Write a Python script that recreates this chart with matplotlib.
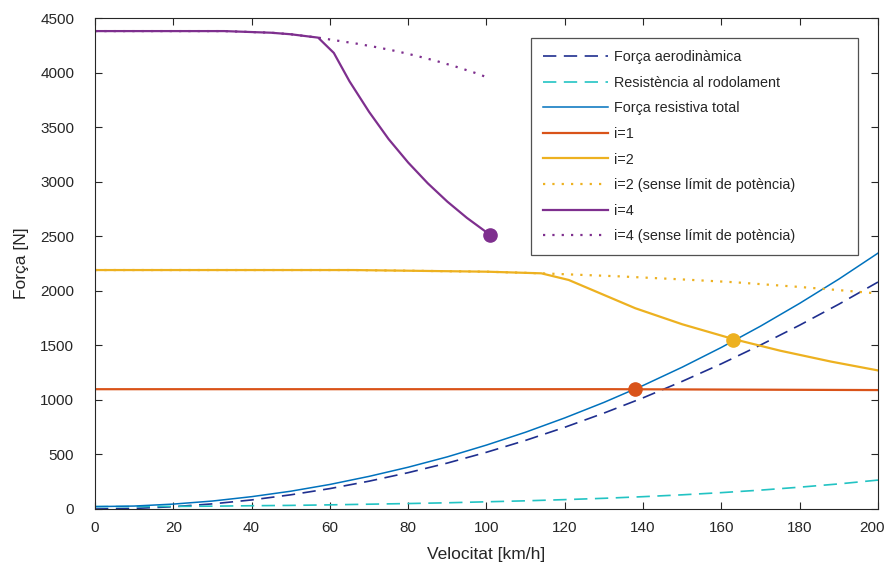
import numpy as np
import matplotlib
matplotlib.use("Agg")
import matplotlib.pyplot as plt
import matplotlib.transforms as mtransforms

plt.rcParams['font.family'] = ['Liberation Sans', 'DejaVu Sans']

# --- data ---
speed = [0, 10, 20, 30, 40, 50, 60, 70, 80, 90, 100, 110, 120, 130, 140, 150, 160, 170, 180, 190, 200]
aero = [0, 5, 21, 47, 83, 130, 187, 255, 333, 421, 520, 629, 749, 879, 1019, 1170, 1331, 1503, 1685, 1877, 2080]
rolling = [22, 22, 24, 26, 30, 33, 38, 44, 50, 57, 66, 75, 86, 98, 113, 130, 150, 173, 200, 230, 265]

i1_v = [0, 132, 200]
i1_f = [1098, 1098, 1090]

i2_v = [0, 66, 100, 114, 121, 138, 150, 163, 175, 188, 200]
i2_f = [2190, 2190, 2175, 2160, 2099, 1840, 1693, 1558, 1451, 1351, 1270]
i2nl_v = [0, 66, 100, 114, 134, 150, 163, 180, 190, 200]
i2nl_f = [2190, 2190, 2175, 2160, 2132, 2104, 2079, 2035, 2006, 1975]

i4_v = [0, 33, 45, 50, 57, 61, 65, 70, 75, 80, 85, 90, 95, 101]
i4_f = [4380, 4380, 4365, 4351, 4320, 4180, 3920, 3640, 3390, 3175, 2985, 2817, 2668, 2510]
i4nl_v = [0, 33, 45, 50, 57, 62, 67, 72, 77, 82, 87, 92, 97, 101]
i4nl_f = [4380, 4380, 4365, 4351, 4320, 4292, 4264, 4232, 4196, 4154, 4108, 4056, 3998, 3945]

op_v = [138, 163, 101]
op_f = [1098, 1550, 2510]

xticks = [0, 20, 40, 60, 80, 100, 120, 140, 160, 180, 200]
yticks = [0, 500, 1000, 1500, 2000, 2500, 3000, 3500, 4000, 4500]

total = np.array(aero) + np.array(rolling)

c_aero = '#1f2f8f'
c_roll = '#22c3c3'
c_tot = '#0072BD'
c1 = '#D95319'
c2 = '#EDB120'
c4 = '#7E2F8E'
axc = '#262626'

fig = plt.figure(figsize=(8.87, 5.69), dpi=100)
ax = fig.add_axes([95/887, 1-509/569, (878-95)/887, (509-18)/569])

dash = (0, (8, 4.5))
dot = (0, (1, 3.2))
ax.plot(speed, aero, color=c_aero, lw=1.2, ls=dash, label='Força aerodinàmica')
ax.plot(speed, rolling, color=c_roll, lw=1.2, ls=dash, label='Resistència al rodolament')
ax.plot(speed, total, color=c_tot, lw=1.1, label='Força resistiva total')
ax.plot(i1_v, i1_f, color=c1, lw=1.6, label='i=1')
ax.plot(i2_v, i2_f, color=c2, lw=1.6, label='i=2')
ax.plot(i2nl_v, i2nl_f, color=c2, lw=1.6, ls=dot, label='i=2 (sense límit de potència)')
ax.plot(i4_v, i4_f, color=c4, lw=1.6, label='i=4')
ax.plot(i4nl_v, i4nl_f, color=c4, lw=1.6, ls=dot, label='i=4 (sense límit de potència)')

for v, f, c in zip(op_v, op_f, [c1, c2, c4]):
    ax.plot([v], [f], 'o', color=c, ms=9.5, zorder=5)

ax.set_xlim(0, 200)
ax.set_ylim(0, 4500)
ax.set_xticks(xticks)
ax.set_yticks(yticks)
ax.tick_params(direction='in', length=5, width=0.8, colors=axc, labelsize=11,
               top=True, right=True)
ax.tick_params(axis='y', pad=15)
ax.tick_params(axis='x', pad=9)
for s in ax.spines.values():
    s.set_color(axc)
    s.set_linewidth(0.8)

ax.set_xlabel('Velocitat [km/h]', fontsize=12.5, color=axc, labelpad=8)
ax.set_ylabel('Força [N]', fontsize=12.5, color=axc, labelpad=8)

# nudge last x tick label slightly left so it stays inside the figure
fig.canvas.draw()
lab = ax.get_xticklabels()[-1]
lab.set_transform(lab.get_transform() + mtransforms.ScaledTranslation(-6/100, 0, fig.dpi_scale_trans))

x0 = (531-95)/783
w = (858-531)/783
top = (509-38)/491
leg = ax.legend(loc='upper left', bbox_to_anchor=(x0, 0, w, top), mode='expand',
                fontsize=10.4, handlelength=4.5, labelspacing=0.8, borderpad=0.85,
                handletextpad=0.4, frameon=True, fancybox=False, borderaxespad=0)
leg.get_frame().set_edgecolor(axc)
leg.get_frame().set_linewidth(0.9)
for t in leg.get_texts():
    t.set_color(axc)

fig.savefig('out.png', dpi=100)
